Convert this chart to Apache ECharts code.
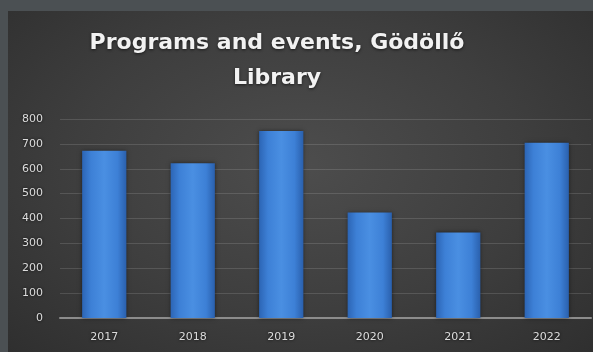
<!DOCTYPE html>
<html><head><meta charset="utf-8">
<script src="https://cdn.jsdelivr.net/npm/echarts@6/dist/echarts.min.js"></script>
<style>
html,body{margin:0;padding:0;background:#4b5053;width:593px;height:352px;overflow:hidden}
#c{position:absolute;left:8px;top:11px;width:585px;height:341px;
background:radial-gradient(ellipse at 50% 45%, #4d4d4d 0%, #3e3e3e 55%, #2f2f2f 100%);}
</style></head><body>
<div id="c"></div>
<script>
const titleText = "Programs and events, Gödöllő\nLibrary";
const years = ["2017","2018","2019","2020","2021","2022"];
const events = [672, 622, 752, 424, 344, 705];
const yMin = 0, yMax = 800, yStep = 100;

const chart = echarts.init(document.getElementById('c'), null, {renderer:'canvas'});
chart.setOption({
  backgroundColor: 'transparent',
  animation: false,
  title: {
    text: titleText,
    left: 264, top: 10, textAlign: 'center',
    textStyle: {color:'#f2f2f2', fontFamily:'DejaVu Sans', fontWeight:'bold', fontSize:22, lineHeight:35,
      textShadowColor:'rgba(0,0,0,0.6)', textShadowBlur:3, textShadowOffsetY:1}
  },
  grid: {left:52, right:2, top:108, bottom:34, containLabel:false},
  xAxis: {
    type:'category', data: years,
    axisLine:{show:true, lineStyle:{color:'#8c8c8c', width:2}},
    axisTick:{show:false},
    axisLabel:{color:'#dcdcdc', fontFamily:'DejaVu Sans', fontSize:11, margin:14,
      textShadowColor:'rgba(0,0,0,0.8)', textShadowBlur:3}
  },
  yAxis: {
    type:'value', min:yMin, max:yMax, interval:yStep,
    axisLine:{show:false}, axisTick:{show:false},
    axisLabel:{color:'#dcdcdc', fontFamily:'DejaVu Sans', fontSize:11, margin:17,
      textShadowColor:'rgba(0,0,0,0.8)', textShadowBlur:3},
    splitLine:{lineStyle:{color:'rgba(255,255,255,0.13)', width:1}}
  },
  series: [{
    type:'bar', data: events, barWidth:'50%',
    itemStyle:{
      color: new echarts.graphic.LinearGradient(0,0,1,0,[
        {offset:0,color:'#2c65b5'},{offset:0.2,color:'#3d80d6'},
        {offset:0.5,color:'#4a8fe2'},{offset:0.8,color:'#3d80d6'},{offset:1,color:'#2a60ad'}]),
      shadowColor:'rgba(0,0,0,0.5)', shadowBlur:4
    }
  }]
});
</script></body></html>
